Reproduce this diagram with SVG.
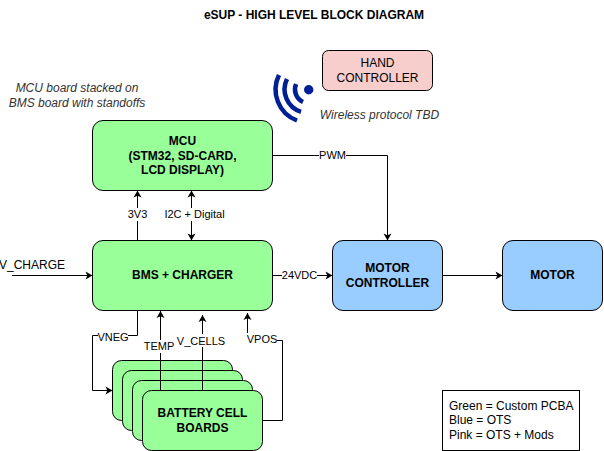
<svg xmlns="http://www.w3.org/2000/svg" width="604" height="451" viewBox="0 0 604 451">
<defs>
<marker id="arr" markerUnits="userSpaceOnUse" markerWidth="10" markerHeight="10" refX="8" refY="5" orient="auto"><path d="M1,1 L8,5 L1,9 L2.800,5 Z" fill="#000"/></marker>
</defs>
<style>
text{font-family:"Liberation Sans",Arial,sans-serif;fill:#000}
.b{font-size:12px;font-weight:bold;text-anchor:middle}
.t{font-size:12px;text-anchor:middle}
.l{font-size:11px;text-anchor:middle}
.i{font-size:12px;font-style:italic;fill:#333;text-anchor:middle}
.n{stroke:#000;stroke-width:1}
.g{fill:#99FF99}.u{fill:#99CCFF}.p{fill:#F8CECC}
.c{fill:none;stroke:#000;stroke-width:1}
.a{marker-end:url(#arr)}
.w{fill:#fff}
</style>
<rect width="604" height="451" fill="#fff"/>
<text class="b" x="314" y="19">eSUP - HIGH LEVEL BLOCK DIAGRAM</text>
<text class="i" x="77" y="92">MCU board stacked on</text>
<text class="i" x="77" y="107">BMS board with standoffs</text>
<text class="i" x="379.500" y="119">Wireless protocol TBD</text>
<g id="icon" fill="none" stroke="#001E96" stroke-width="4.500">
<circle cx="308.700" cy="89.700" r="4.700" fill="#001E96" stroke="none"/>
<path d="M296,84 A14,14 0 0 0 303,102"/>
<path d="M287,79 A23.500,23.500 0 0 0 301,111.800"/>
<path d="M279,75 A33,33 0 0 0 297,120.500"/>
</g>
<g id="mcu"><rect class="n g" x="92.500" y="120.500" width="180" height="70" rx="10.500"/><text class="b" x="182.500" y="145">MCU</text><text class="b" x="182.500" y="160">(STM32, SD-CARD,</text><text class="b" x="182.500" y="174">LCD DISPLAY)</text></g>
<g id="hand"><rect class="n p" x="322.500" y="50.500" width="110" height="40" rx="6"/><text class="t" x="377.500" y="67">HAND</text><text class="t" x="377.500" y="82">CONTROLLER</text></g>
<g id="bms"><rect class="n g" x="92.500" y="240.500" width="180" height="70" rx="10.500"/><text class="b" x="182.500" y="279">BMS + CHARGER</text></g>
<g id="controller"><rect class="n u" x="332.500" y="240.500" width="110" height="70" rx="10.500"/><text class="b" x="387.500" y="272">MOTOR</text><text class="b" x="387.500" y="287">CONTROLLER</text></g>
<g id="motor"><rect class="n u" x="502.500" y="240.500" width="100" height="70" rx="10.500"/><text class="b" x="552.500" y="279">MOTOR</text></g>
<g id="cells">
<rect class="n g" x="112.500" y="360.500" width="120" height="60" rx="9"/>
<rect class="n g" x="122.500" y="370.500" width="120" height="60" rx="9"/>
<rect class="n g" x="132.500" y="380.500" width="120" height="60" rx="9"/>
<rect class="n g" x="142.500" y="390.500" width="120" height="60" rx="9"/>
<text class="b" x="202.500" y="417">BATTERY CELL</text><text class="b" x="202.500" y="432">BOARDS</text>
</g>
<g id="connectors">
<path class="c a" d="M137.500,240.500 V190.500"/>
<path class="c a" d="M191.500,215 V190.500"/>
<path class="c a" d="M191.500,215 V240.500"/>
<path class="c a" d="M12,275.500 H92.500"/>
<path class="c a" d="M272.500,275.500 H332.500"/>
<path class="c a" d="M442.500,275.500 H502.500"/>
<path class="c a" d="M272.500,155.500 H387.500 V240.500"/>
<path class="c a" d="M137.500,310.500 V335.500 H92.500 V390.500 H112.500"/>
<path class="c a" d="M160.500,390.500 V311"/>
<path class="c a" d="M202.500,390.500 V315"/>
<path class="c a" d="M262.500,420.500 H282.500 V340.500 H247.500 V313"/>
</g>
<g id="labels">
<rect class="w" x="127" y="208" width="21" height="13"/><text class="l" x="137.500" y="218">3V3</text>
<rect class="w" x="163" y="208" width="62" height="13"/><text class="l" x="194.500" y="218">I2C + Digital</text>
<text class="t" x="32" y="269">V_CHARGE</text>
<rect class="w" x="282" y="269" width="35" height="13"/><text class="l" x="299.500" y="279">24VDC</text>
<rect class="w" x="319" y="149" width="27" height="13"/><text class="l" x="332.500" y="159">PWM</text>
<rect class="w" x="98" y="330" width="30" height="13"/><text class="l" x="113" y="341">VNEG</text>
<rect class="w" x="144" y="340" width="30" height="13"/><text class="l" x="159" y="350">TEMP</text>
<rect class="w" x="177" y="334" width="49" height="13"/><text class="l" x="201" y="345">V_CELLS</text>
<rect class="w" x="247" y="333" width="30" height="13"/><text class="l" x="262" y="343">VPOS</text>
</g>
<g id="legend"><rect x="442.500" y="390.500" width="137" height="60" fill="#fff" stroke="#000"/><text x="449" y="410">Green = Custom PCBA</text><text x="449" y="424">Blue = OTS</text><text x="449" y="439">Pink = OTS + Mods</text></g>
<style>#legend text{font-size:12px}</style>
</svg>
